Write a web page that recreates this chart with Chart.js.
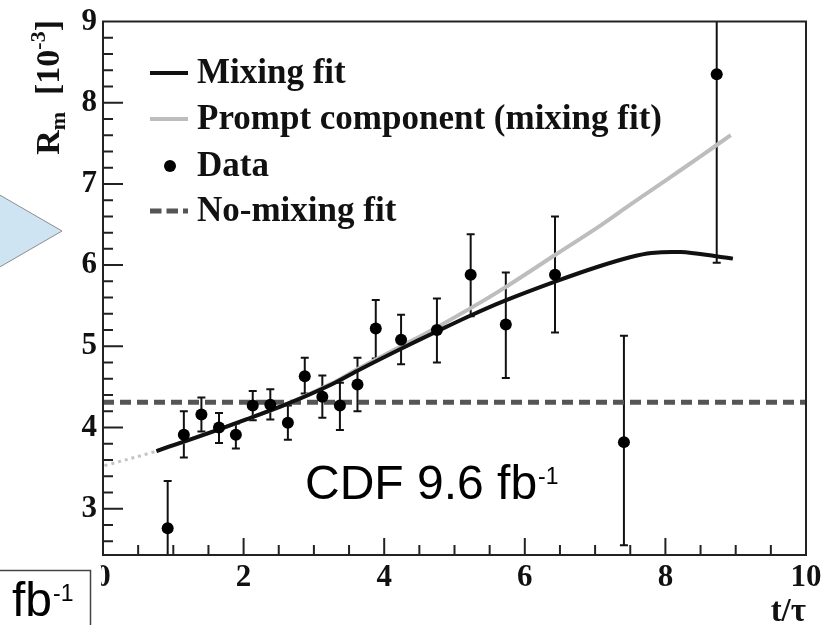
<!DOCTYPE html>
<html><head><meta charset="utf-8">
<script src="https://cdn.jsdelivr.net/npm/chart.js@4.4.1/dist/chart.umd.min.js"></script>
<style>html,body{margin:0;padding:0;background:#fff;overflow:hidden}canvas{display:block}</style>
</head><body>
<canvas id="c" width="834" height="625"></canvas>
<script>
// ---- data ----
const xTicks = [0, 2, 4, 6, 8, 10];
const yTicks = [3, 4, 5, 6, 7, 8, 9];

const dataT  = [0.92, 1.15, 1.40, 1.65, 1.89, 2.13, 2.38, 2.63, 2.87, 3.12, 3.37, 3.62, 3.88, 4.24, 4.75, 5.23, 5.73, 6.43, 7.41, 8.73];
const dataR  = [2.76, 3.91, 4.16, 4.00, 3.91, 4.27, 4.28, 4.06, 4.63, 4.38, 4.27, 4.53, 5.22, 5.08, 5.20, 5.88, 5.27, 5.88, 3.82, 8.35];
const dataHi = [3.34, 4.20, 4.37, 4.18, 4.05, 4.45, 4.47, 4.27, 4.86, 4.64, 4.55, 4.86, 5.57, 5.39, 5.59, 6.38, 5.91, 6.60, 5.13, 10.70];
const dataLo = [2.00, 3.63, 3.95, 3.81, 3.74, 4.09, 4.10, 3.85, 4.42, 4.12, 3.97, 4.20, 4.85, 4.78, 4.80, 5.37, 4.61, 5.17, 2.55, 6.03];

const mixT = [0.76, 1.5, 2.1, 2.62, 3.25, 3.62, 4.24, 4.74, 5.23, 5.71, 6.44, 7.04, 7.51, 7.80, 8.22, 8.72, 8.96];
const mixR = [3.71, 3.93, 4.12, 4.29, 4.53, 4.70, 4.97, 5.18, 5.38, 5.56, 5.80, 5.98, 6.10, 6.15, 6.16, 6.11, 6.08];

const promptT = [0.02, 0.76, 1.5, 2.1, 2.62, 3.25, 3.62, 4.24, 4.74, 5.23, 5.71, 6.44, 7.08, 7.51, 8.0, 8.5, 8.93];
const promptR = [3.53, 3.71, 3.93, 4.12, 4.29, 4.54, 4.72, 5.00, 5.23, 5.47, 5.72, 6.13, 6.49, 6.75, 7.04, 7.34, 7.60];

const noMixT = [0, 10];
const noMixR = [4.31, 4.31];

const legendLabels = ['Mixing fit', 'Prompt component (mixing fit)', 'Data', 'No-mixing fit'];
const xTitle = 't/\u03C4';
const cdfText = 'CDF 9.6 fb';
const cdfSup = '-1';

// ---- helpers ----
const pts = (xs, ys) => xs.map((v, i) => ({x: v, y: ys[i]}));
const SERIF = '"Liberation Serif", "Times New Roman", serif';
const SANS = '"Liberation Sans", Arial, sans-serif';

const frameAndTicks = {
  id: 'frameAndTicks',
  beforeDatasetsDraw(chart) {
    const {ctx, chartArea: a, scales: {x, y}} = chart;
    ctx.save();
    ctx.beginPath(); ctx.rect(a.left, a.top, a.right - a.left, a.bottom - a.top); ctx.clip();
    ctx.strokeStyle = '#111'; ctx.lineWidth = 2;
    dataT.forEach((t, i) => {
      const px = x.getPixelForValue(t);
      const ph = y.getPixelForValue(dataHi[i]);
      const pl = y.getPixelForValue(dataLo[i]);
      ctx.beginPath();
      ctx.moveTo(px, ph); ctx.lineTo(px, pl);
      ctx.moveTo(px - 4, ph); ctx.lineTo(px + 4, ph);
      ctx.moveTo(px - 4, pl); ctx.lineTo(px + 4, pl);
      ctx.stroke();
    });
    ctx.restore();
  },
  afterDatasetsDraw(chart) {
    const {ctx, chartArea: a, scales: {x, y}} = chart;
    ctx.save();
    ctx.strokeStyle = '#222'; ctx.lineWidth = 2;
    ctx.strokeRect(a.left, a.top, a.right - a.left, a.bottom - a.top);
    ctx.beginPath();
    for (let k = 1; k < 20; k++) {
      const v = k / 2;
      const px = x.getPixelForValue(v);
      const len = (k % 4 === 0) ? 17 : 10;
      ctx.moveTo(px, a.bottom); ctx.lineTo(px, a.bottom - len);
    }
    for (let k = 13; k <= 44; k++) {
      const v = k / 5;
      const py = y.getPixelForValue(v);
      if (py < a.top + 1 || py > a.bottom - 1) continue;
      const len = (k % 5 === 0) ? 20 : 10;
      ctx.moveTo(a.left, py); ctx.lineTo(a.left + len, py);
    }
    ctx.stroke();
    ctx.restore();
  },
  afterDraw(chart) {
    const {ctx} = chart;
    ctx.save();
    // legend
    const rows = [73, 119, 166, 211];
    ctx.lineCap = 'butt';
    ctx.strokeStyle = '#111'; ctx.lineWidth = 4;
    ctx.beginPath(); ctx.moveTo(150, rows[0]); ctx.lineTo(188, rows[0]); ctx.stroke();
    ctx.strokeStyle = '#bdbdbd';
    ctx.beginPath(); ctx.moveTo(150, rows[1]); ctx.lineTo(188, rows[1]); ctx.stroke();
    ctx.fillStyle = '#000';
    ctx.beginPath(); ctx.arc(170, rows[2], 6, 0, Math.PI * 2); ctx.fill();
    ctx.strokeStyle = '#555'; ctx.lineWidth = 5; ctx.setLineDash([11.5, 5]);
    ctx.beginPath(); ctx.moveTo(150, rows[3]); ctx.lineTo(188, rows[3]); ctx.stroke();
    ctx.setLineDash([]);
    ctx.font = 'bold 35px ' + SERIF; ctx.textBaseline = 'middle'; ctx.textAlign = 'left';
    ctx.fillStyle = '#111';
    legendLabels.forEach((s, i) => ctx.fillText(s, 197, rows[i] + 1));

    // CDF label
    ctx.textBaseline = 'alphabetic';
    ctx.fillStyle = '#000';
    ctx.font = '48px ' + SANS;
    ctx.fillText(cdfText, 305, 499);
    const w = ctx.measureText(cdfText).width;
    ctx.font = '23px ' + SANS;
    ctx.fillText(cdfSup, 305 + w + 1, 484);

    // x title
    ctx.font = 'bold 33px ' + SERIF; ctx.textAlign = 'right'; ctx.fillStyle = '#111';
    ctx.fillText(xTitle, 806, 621);

    // y title (rotated), ending at the top of the frame
    ctx.save();
    ctx.translate(59, 20);
    ctx.rotate(-Math.PI / 2);
    ctx.textAlign = 'left';
    const parts = [
      {t: 'R', f: 'bold 34px ' + SERIF, dy: 0},
      {t: 'm', f: 'bold 22px ' + SERIF, dy: 6},
      {t: '  [10', f: 'bold 34px ' + SERIF, dy: 0},
      {t: '-3', f: 'bold 22px ' + SERIF, dy: -14},
      {t: ']', f: 'bold 34px ' + SERIF, dy: 0}
    ];
    let total = 0;
    parts.forEach(p => { ctx.font = p.f; p.w = ctx.measureText(p.t).width; total += p.w; });
    let cx = -total;
    parts.forEach(p => { ctx.font = p.f; ctx.fillText(p.t, cx, p.dy); cx += p.w; });
    ctx.restore();

    // slide overlays: arrow tip and partially hidden label box
    ctx.fillStyle = '#cfe4f2'; ctx.strokeStyle = '#8c8c8c'; ctx.lineWidth = 1;
    ctx.beginPath(); ctx.moveTo(-2, 194); ctx.lineTo(62, 231); ctx.lineTo(-2, 268); ctx.closePath();
    ctx.fill(); ctx.stroke();

    ctx.fillStyle = '#fff';
    ctx.fillRect(-2, 566, 103, 62);
    ctx.strokeStyle = '#444'; ctx.lineWidth = 1.5;
    ctx.strokeRect(-2, 570.5, 92.5, 60);
    ctx.fillStyle = '#000'; ctx.textAlign = 'left';
    ctx.font = '48px ' + SANS;
    ctx.fillText('fb', 12, 616);
    const w2 = ctx.measureText('fb').width;
    ctx.font = '23px ' + SANS;
    ctx.fillText(cdfSup, 12 + w2 + 1, 601);
    ctx.restore();
  }
};

new Chart(document.getElementById('c'), {
  type: 'scatter',
  data: {
    datasets: [
      {
        label: legendLabels[2], data: pts(dataT, dataR),
        pointRadius: 6, pointHoverRadius: 6, pointBackgroundColor: '#000', pointBorderWidth: 0, showLine: false
      },
      {
        label: legendLabels[0], type: 'line', data: pts(mixT, mixR),
        borderColor: '#111', borderWidth: 4, pointRadius: 0, tension: 0.35, fill: false
      },
      {
        label: legendLabels[1], type: 'line', data: pts(promptT, promptR),
        borderColor: '#bdbdbd', borderWidth: 4, pointRadius: 0, tension: 0.35, fill: false,
        segment: {
          borderDash: c => c.p1DataIndex <= 1 ? [3, 4] : undefined,
          borderColor: c => c.p1DataIndex <= 1 ? '#c4c4c4' : undefined,
          borderWidth: c => c.p1DataIndex <= 1 ? 3 : undefined
        }
      },
      {
        label: legendLabels[3], type: 'line', data: pts(noMixT, noMixR),
        borderColor: '#555', borderWidth: 5, borderDash: [11, 6], pointRadius: 0, fill: false
      }
    ]
  },
  options: {
    responsive: false, animation: false, devicePixelRatio: 1,
    events: [],
    layout: {padding: {left: 0, top: 18, right: 28, bottom: 0}},
    plugins: {legend: {display: false}, tooltip: {enabled: false}},
    scales: {
      x: {
        type: 'linear', min: 0, max: 10,
        grid: {display: false, drawTicks: false, tickLength: 0},
        border: {display: false},
        ticks: {
          font: {family: SERIF, size: 31, weight: 'bold', lineHeight: 1},
          color: '#111', padding: 7, maxRotation: 0, autoSkip: false, includeBounds: false
        },
        afterBuildTicks: s => { s.ticks = xTicks.map(v => ({value: v})); },
        afterFit: s => { s.height = 70; }
      },
      y: {
        type: 'linear', min: 2.43, max: 9,
        grid: {display: false, drawTicks: false, tickLength: 0},
        border: {display: false},
        ticks: {
          font: {family: SERIF, size: 31, weight: 'bold', lineHeight: 1},
          color: '#111', padding: 6, autoSkip: false, includeBounds: false
        },
        afterBuildTicks: s => { s.ticks = yTicks.map(v => ({value: v})); },
        afterFit: s => { s.width = 103; }
      }
    }
  },
  plugins: [frameAndTicks]
});
</script>
</body></html>
